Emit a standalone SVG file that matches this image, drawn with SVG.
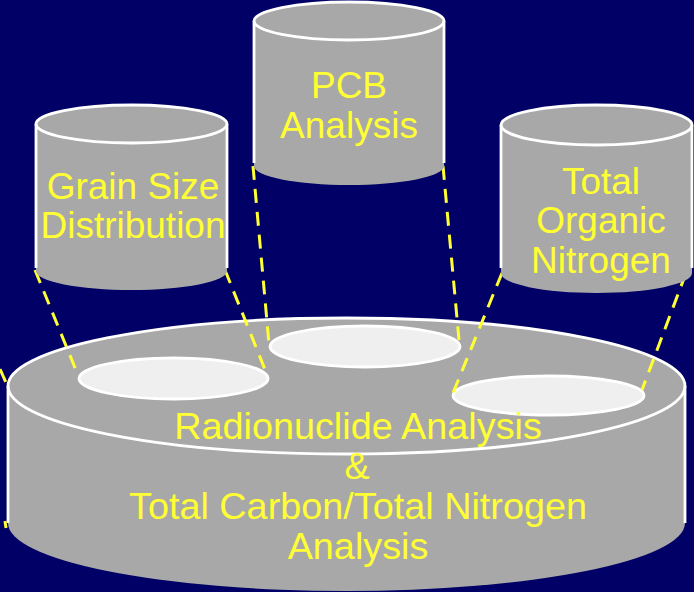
<svg xmlns="http://www.w3.org/2000/svg" width="694" height="592" viewBox="0 0 694 592">
<style>
.body{fill:#A8A8A8;stroke:none}
.top{fill:#A8A8A8;stroke:#FFFFFF;stroke-width:2.8}
.wall{stroke:#FFFFFF;stroke-width:2.8;fill:none}
.hole{fill:#EFEFEF;stroke:#FFFFFF;stroke-width:2.8}
.lbl{font-family:"Liberation Sans",Arial,sans-serif;font-size:37px;fill:#FFFF33;text-anchor:middle}
.big{font-size:37.8px}
.dash{stroke:#FFFF33;stroke-width:3;stroke-dasharray:14 9;fill:none}
</style>
<rect width="694" height="592" fill="#000066"/>

<g id="radionuclide">
<path class="body" d="M8,386 L8,523 A338.5,68 0 0 0 685,523 L685,386 Z"/>
<ellipse class="top" cx="346.5" cy="386" rx="338.5" ry="68"/>
<line class="wall" x1="8" y1="386" x2="8" y2="523"/>
<line class="wall" x1="685" y1="386" x2="685" y2="523"/>
<ellipse class="hole" cx="173.5" cy="378.5" rx="94.5" ry="20.5"/>
<ellipse class="hole" cx="365" cy="346.5" rx="95" ry="20.5"/>
<ellipse class="hole" cx="548.5" cy="395.5" rx="95.5" ry="19.5"/>
<text class="lbl big" x="358" y="439">Radionuclide Analysis</text>
<text class="lbl big" x="357" y="479">&amp;</text>
<text class="lbl big" x="358" y="519">Total Carbon/Total Nitrogen</text>
<text class="lbl big" x="358" y="559">Analysis</text>
</g>

<g id="connectors">
<line class="dash" x1="35" y1="270" x2="78" y2="375"/>
<line class="dash" x1="225" y1="270" x2="266" y2="372"/>
<line class="dash" x1="253" y1="166" x2="269" y2="344"/>
<line class="dash" x1="443" y1="166" x2="459" y2="340"/>
<line class="dash" x1="502" y1="273" x2="453" y2="393"/>
<line class="dash" x1="686" y1="273" x2="642" y2="390"/>
<line class="dash" x1="0" y1="369" x2="8" y2="387"/>
<line class="dash" x1="5" y1="521" x2="6" y2="528" stroke-dasharray="none"/>
</g>

<g id="grain-size">
<path class="body" d="M36,124 L36,271 A95.5,19 0 0 0 227,271 L227,124 Z"/>
<ellipse class="top" cx="131.5" cy="124" rx="95.5" ry="19"/>
<line class="wall" x1="36" y1="124" x2="36" y2="268"/>
<line class="wall" x1="227" y1="124" x2="227" y2="268"/>
<text class="lbl" x="133" y="199">Grain Size</text>
<text class="lbl" x="133" y="238">Distribution</text>
</g>

<g id="pcb">
<path class="body" d="M254,21 L254,166 A95,19 0 0 0 444,166 L444,21 Z"/>
<ellipse class="top" cx="349" cy="21" rx="95" ry="19"/>
<line class="wall" x1="254" y1="21" x2="254" y2="163"/>
<line class="wall" x1="444" y1="21" x2="444" y2="163"/>
<text class="lbl" x="349" y="98">PCB</text>
<text class="lbl" x="349" y="138">Analysis</text>
</g>

<g id="total-organic-nitrogen">
<path class="body" d="M501,125 L501,273 A95.5,20 0 0 0 692,273 L692,125 Z"/>
<ellipse class="top" cx="596.5" cy="125" rx="95.5" ry="20"/>
<line class="wall" x1="501" y1="125" x2="501" y2="268"/>
<line class="wall" x1="692" y1="125" x2="692" y2="268"/>
<text class="lbl" x="601" y="194">Total</text>
<text class="lbl" x="601" y="233">Organic</text>
<text class="lbl" x="601" y="273">Nitrogen</text>
</g>
</svg>
